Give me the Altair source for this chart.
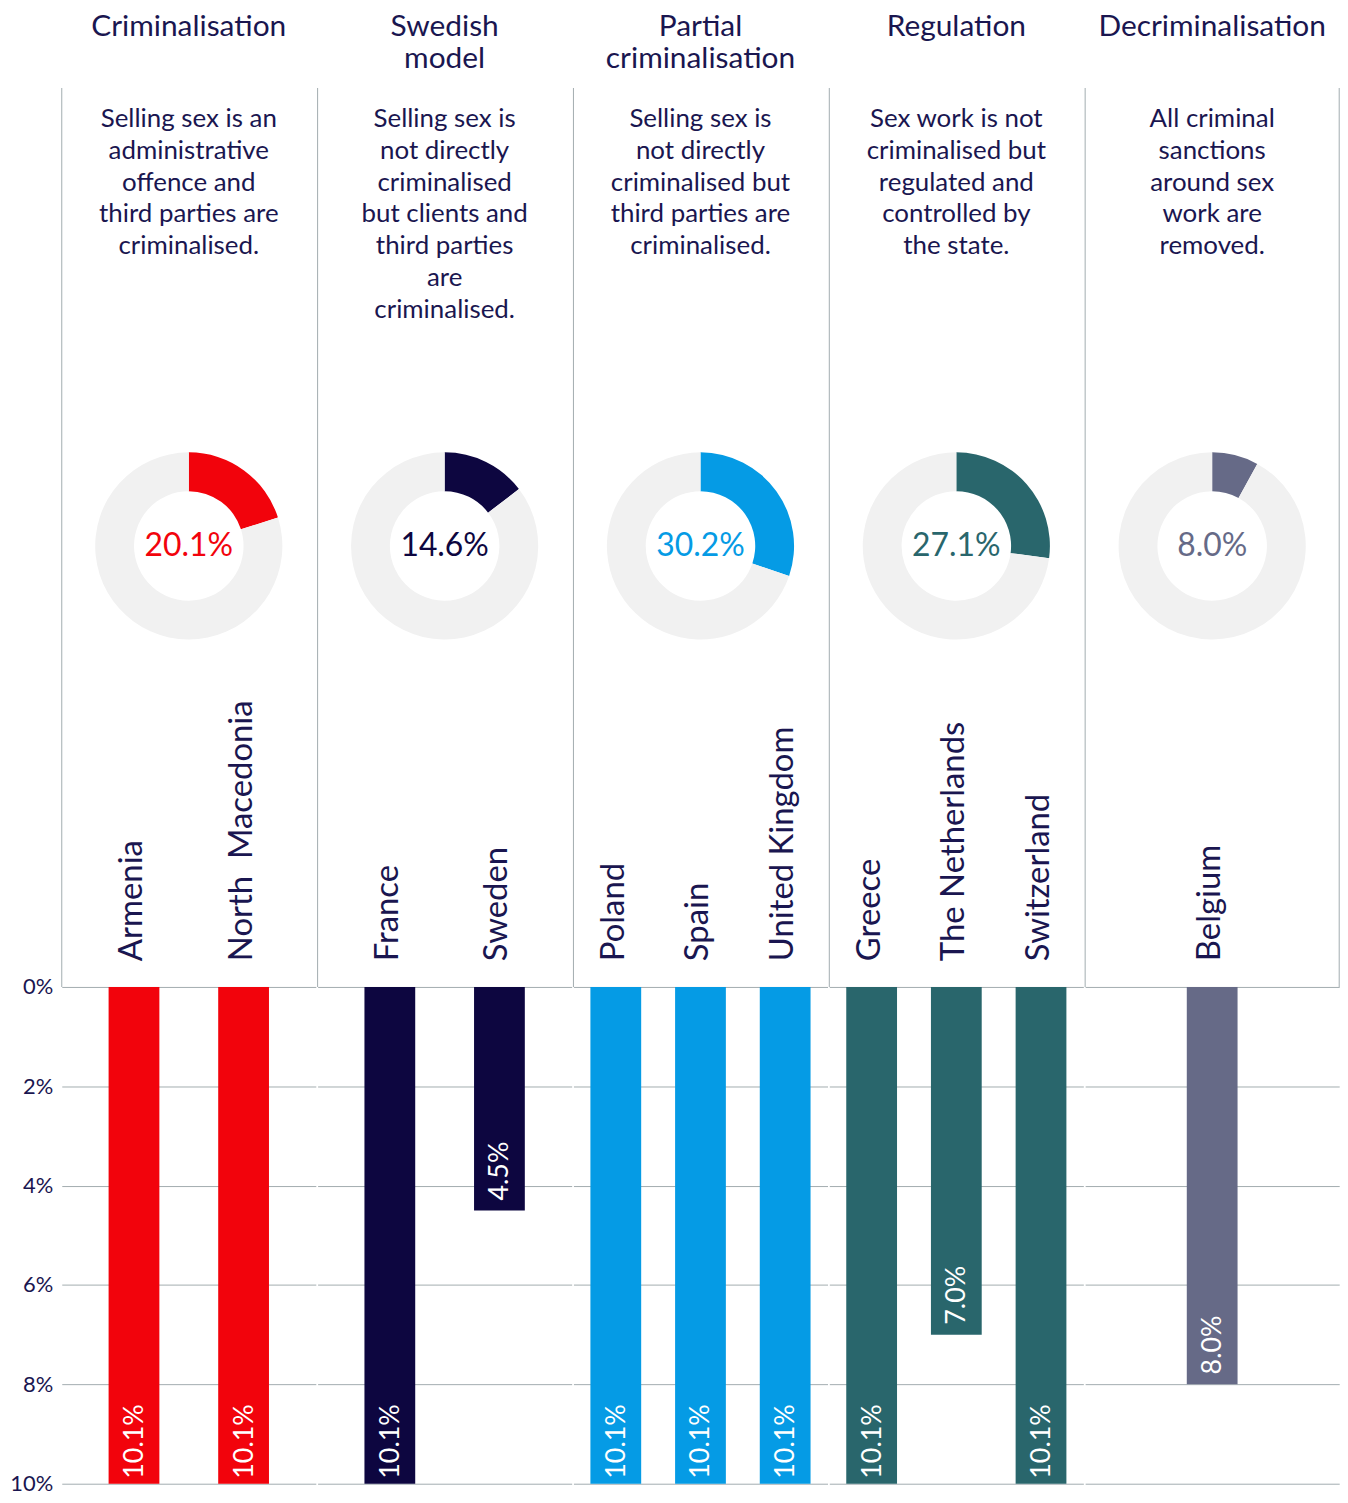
import altair as alt
import pandas as pd

# ---------------- data ----------------
categories = ["Criminalisation", "Swedish model", "Partial criminalisation",
              "Regulation", "Decriminalisation"]
title_lines = [["Criminalisation", ""], ["Swedish", "model"],
               ["Partial", "criminalisation"], ["Regulation", ""],
               ["Decriminalisation", ""]]
descriptions = [
    "Selling sex is an\nadministrative\noffence and\nthird parties are\ncriminalised.",
    "Selling sex is\nnot directly\ncriminalised\nbut clients and\nthird parties\nare\ncriminalised.",
    "Selling sex is\nnot directly\ncriminalised but\nthird parties are\ncriminalised.",
    "Sex work is not\ncriminalised but\nregulated and\ncontrolled by\nthe state.",
    "All criminal\nsanctions\naround sex\nwork are\nremoved.",
]
donut_values = [20.1, 14.6, 30.2, 27.1, 8.0]
countries = [["Armenia", "North\u00a0\u00a0Macedonia"], ["France", "Sweden"],
             ["Poland", "Spain", "United Kingdom"],
             ["Greece", "The Netherlands", "Switzerland"], ["Belgium"]]
country_values = [[10.1, 10.1], [10.1, 4.5], [10.1, 10.1, 10.1],
                  [10.1, 7.0, 10.1], [8.0]]
colors = ["#f2030c", "#0d0640", "#059be5", "#29666c", "#666a87"]
tick_values = [0, 2, 4, 6, 8, 10]

# ---------------- style ----------------
FONT = "Lato"
NAVY = "#1a1650"
GRID = "#a2acaf"
RING = "#f1f1f1"
W = 255.2
H = 1402
Y_TOP = -18.1


def column(i):
    n = len(countries[i])
    po = {1: 0.5, 2: 0.159, 3: 0.0}[n]
    bars = pd.DataFrame({
        "country": countries[i],
        "value": country_values[i],
        "zero": [0] * n,
        "label": [f"{v:.1f}%" for v in country_values[i]],
    })
    x = alt.X("country:N", sort=countries[i],
              scale=alt.Scale(paddingInner=0, paddingOuter=po), axis=None)
    yscale = alt.Scale(domain=[Y_TOP, 10], reverse=True, nice=False, zero=False)
    yaxis = alt.Axis(values=tick_values, grid=True, ticks=False, domain=False,
                     title=None, labels=(i == 0),
                     labelExpr="datum.value + '%'", labelPadding=9,
                     labelFontSize=22, labelColor=NAVY, labelFont=FONT)

    def Y(field):
        return alt.Y(field, scale=yscale, axis=yaxis)

    frame = pd.DataFrame({"top": [Y_TOP], "bottom": [0]})
    layers = [
        alt.Chart(frame).mark_rule(color=GRID, strokeWidth=1).encode(
            x=alt.value(0), y=Y("top:Q"), y2="bottom:Q")
    ]
    if i == len(categories) - 1:
        layers.append(alt.Chart(frame).mark_rule(color=GRID, strokeWidth=1).encode(
            x=alt.value(W), y=Y("top:Q"), y2="bottom:Q"))

    base = alt.Chart(bars)
    layers += [
        base.mark_bar(width=51, color=colors[i], clip=True).encode(
            x=x, y=Y("value:Q"), y2="zero:Q"),
        base.mark_text(angle=270, align="left", baseline="alphabetic",
                       dx=10, dy=9, fontSize=27, color="white", font=FONT).encode(
            x=x, y=Y("value:Q"), text="label:N"),
        base.mark_text(angle=270, align="left", baseline="alphabetic",
                       dx=26, dy=8, fontSize=33, color=NAVY, font=FONT).encode(
            x=x, y=Y("zero:Q"), text="country:N"),
    ]

    desc = pd.DataFrame({"desc": [descriptions[i]]})
    layers.append(alt.Chart(desc).mark_text(
        align="center", baseline="top", lineBreak="\n", lineHeight=32,
        fontSize=26, color=NAVY, font=FONT).encode(
        x=alt.value(W / 2), y=alt.value(18), text="desc:N"))

    v = donut_values[i]
    donut = pd.DataFrame({"part": ["value", "rest"], "v": [v, 100 - v],
                          "c": [colors[i], RING], "o": [0, 1]})
    layers.append(alt.Chart(donut).mark_arc(innerRadius=55, outerRadius=94).encode(
        theta=alt.Theta("v:Q", stack=True),
        color=alt.Color("c:N", scale=None),
        order=alt.Order("o:Q"),
        x=alt.value(W / 2), y=alt.value(460)))

    dtext = pd.DataFrame({"t": [f"{v:.1f}%"]})
    layers.append(alt.Chart(dtext).mark_text(
        fontSize=32, color=colors[i], font=FONT, baseline="middle").encode(
        x=alt.value(W / 2), y=alt.value(460), text="t:N"))

    return alt.layer(*layers).properties(
        width=W, height=H,
        title=alt.TitleParams(text=title_lines[i], fontSize=30, font=FONT,
                              color=NAVY, lineHeight=32, offset=14,
                              anchor="middle", fontWeight="normal"))


chart = alt.hconcat(*[column(i) for i in range(len(categories))], spacing=0) \
    .configure_view(stroke=None) \
    .configure_axis(gridColor=GRID, gridWidth=1) \
    .properties(padding={"left": 1, "top": 0, "right": 0, "bottom": 0})

chart.save("out.html", embed_options={"renderer": "svg", "actions": False})
